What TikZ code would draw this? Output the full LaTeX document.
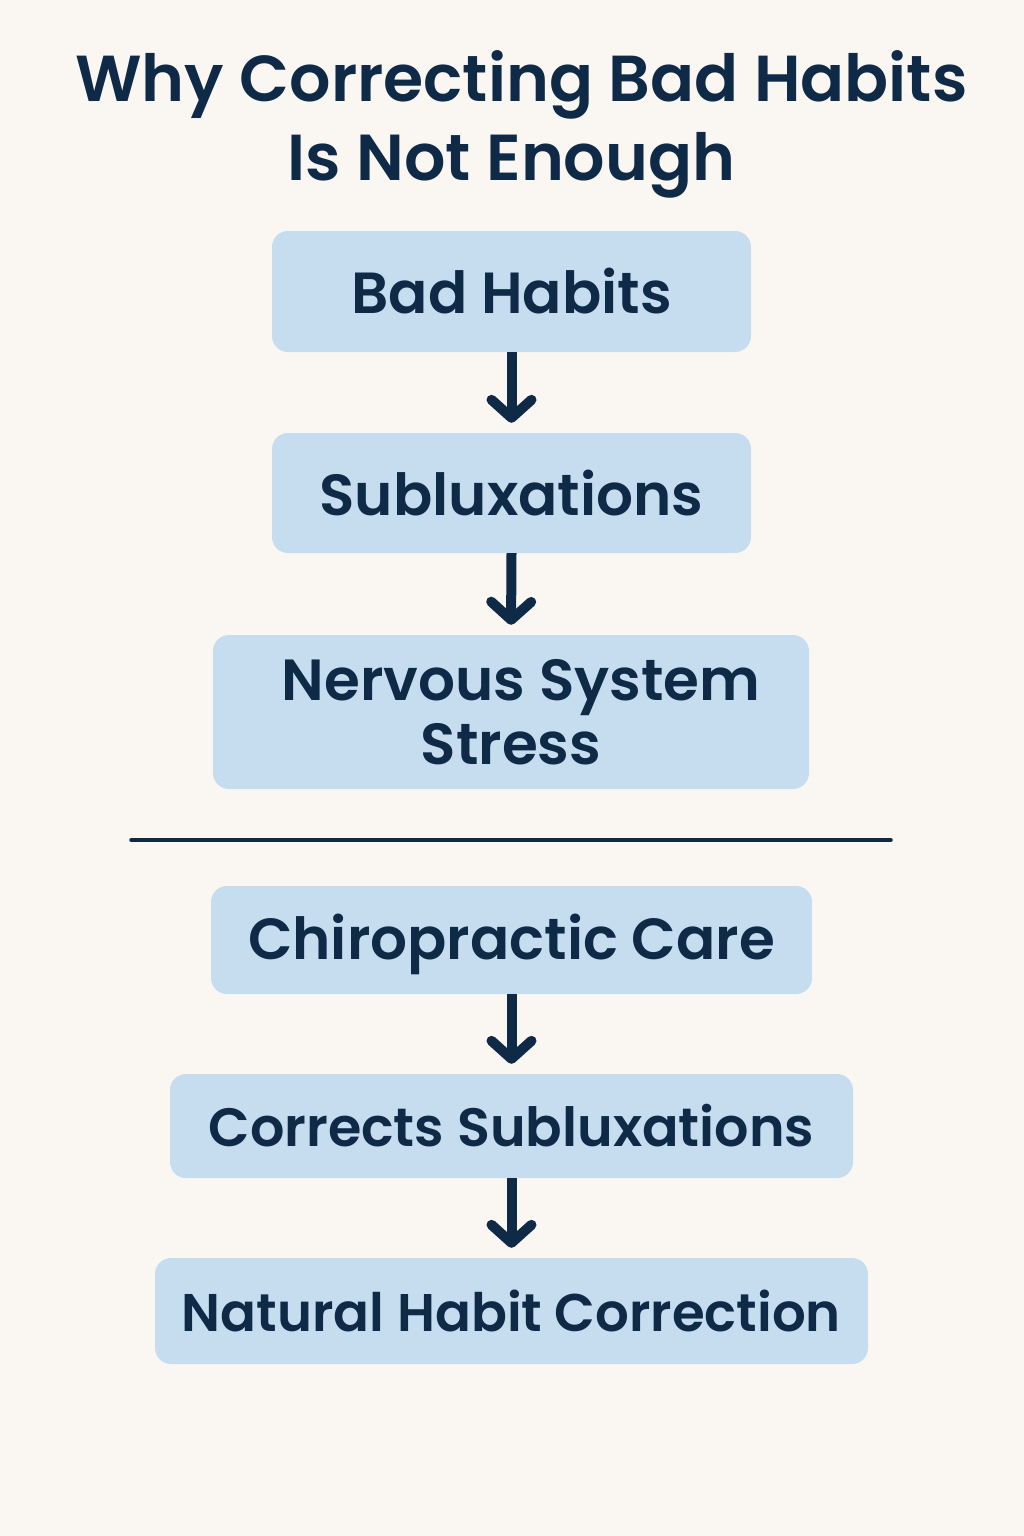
\documentclass[tikz,border=0pt]{standalone}
\usepackage{fontspec}
\setmainfont{Poppins}[UprightFont={* SemiBold}]
\usetikzlibrary{arrows.meta}
\definecolor{bg}{HTML}{FAF7F3}
\definecolor{boxfill}{HTML}{C5DDEE}
\definecolor{ink}{HTML}{0E2A47}
\tikzset{
  stepbox/.style={fill=boxfill, rounded corners=16pt, text=ink, align=center, inner sep=0pt, font=\fontsize{58}{64}\selectfont},
  flow/.style={draw=ink, line width=10pt, -{Straight Barb[length=18pt,width=40pt,line cap=round,line join=round]}, shorten >=10pt},
  titletext/.style={text=ink, inner sep=0pt, font=\fontsize{65}{78}\selectfont},
}
\begin{document}
\begin{tikzpicture}[x=1pt,y=-1pt]
\fill[bg] (0,0) rectangle (1024,1536);
\useasboundingbox (0,0) rectangle (1024,1536);
\node[titletext, anchor=base] (t1) at (521.5,102) {Why Correcting Bad Habits};
\node[titletext, anchor=base] (t2) at (511.5,180) {Is Not Enough};
\node[stepbox, minimum width=479pt, minimum height=121pt] (b1) at (511.5,291.5) {Bad Habits};
\node[stepbox, minimum width=479pt, minimum height=120pt] (b2) at (511.5,493) {Subluxations};
\node[stepbox, minimum width=596pt, minimum height=154pt] (b3) at (511,712) {\hspace*{20pt}Nervous System\\Stress};
\coordinate (l1) at (131,840);
\coordinate (l2) at (891,840);
\draw[ink, line width=3.5pt, line cap=round] (l1) -- (l2);
\node[stepbox, minimum width=601pt, minimum height=108pt] (b4) at (511.5,940) {\raisebox{-4pt}[\height][\depth]{Chiropractic Care}};
\node[stepbox, minimum width=683pt, minimum height=104pt, font=\fontsize{54}{60}\selectfont] (b5) at (511.5,1126) {Corrects Subluxations};
\node[stepbox, minimum width=713pt, minimum height=106pt, font=\fontsize{53}{60}\selectfont] (b6) at (511.5,1311) {Natural Habit Correction};
\draw[flow] (b1.south) -- (b2.north);
\draw[flow] (b2.south) -- (b3.north);
\draw[flow] (b4.south) -- (b5.north);
\draw[flow] (b5.south) -- (b6.north);
\end{tikzpicture}
\end{document}
